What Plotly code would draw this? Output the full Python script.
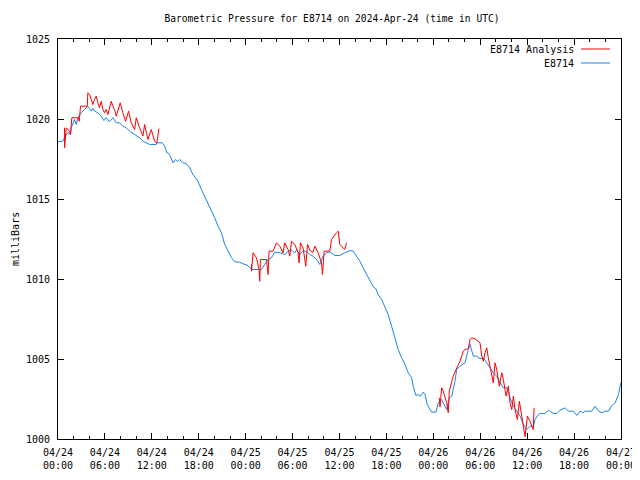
import pandas as pd
import plotly.graph_objects as go

# ---- data (hours since 2024-04-24 00:00 UTC, pressure in mbar) ----
obs_hours = [0.0, 0.19, 0.61, 0.83, 1.25, 1.60, 1.69, 2.11, 2.33, 2.54, 2.97, 3.39, 3.82, 4.03, 4.25, 4.46,
             4.67, 5.10, 5.53, 5.86, 6.17, 6.59, 7.02, 7.45, 7.87, 8.30, 8.73, 9.15, 9.80, 10.44, 10.86,
             11.72, 12.57, 12.61, 13.34, 13.64, 13.93, 14.15, 14.37, 14.70, 15.04, 15.30, 15.56, 15.98,
             16.41, 16.84, 17.26, 17.90, 18.34, 18.76, 19.18, 19.62, 20.04, 20.46, 20.90, 21.32, 21.74,
             22.18, 22.60, 23.24, 23.66, 24.30, 24.74, 26.02, 26.44, 26.86, 27.30, 27.72, 28.36, 29.00,
             29.42, 29.86, 30.28, 30.54, 30.92, 31.34, 31.78, 32.20, 32.62, 33.06, 33.48, 33.91, 34.34,
             34.76, 35.40, 36.04, 36.68, 37.32, 37.75, 38.18, 38.60, 39.03, 39.46, 39.88, 40.31, 40.65,
             40.95, 41.38, 41.81, 42.23, 42.66, 43.09, 43.51, 43.94, 44.37, 44.79, 45.22, 45.43, 45.77,
             46.09, 46.29, 46.71, 46.93, 47.22, 47.78, 48.34, 48.63, 49.06, 49.49, 49.71, 50.04, 50.35,
             50.77, 50.99, 51.41, 52.05, 52.47, 52.69, 53.11, 53.55, 53.97, 54.39, 54.83, 55.25, 55.67,
             56.11, 56.53, 56.95, 57.39, 57.81, 58.23, 58.67, 59.09, 59.51, 59.95, 60.37, 60.79, 61.01,
             61.43, 61.65, 62.29, 62.71, 63.35, 63.79, 64.21, 64.85, 65.28, 65.92, 66.35, 66.77, 67.16,
             67.42, 68.27, 68.69, 69.12, 69.55, 69.97, 70.40, 70.83, 71.25, 71.68, 71.97]
obs_mbar = [1018.58, 1018.58, 1018.61, 1018.83, 1019.14, 1019.03, 1019.45, 1019.97, 1019.66, 1020.08,
            1020.39, 1020.59, 1020.80, 1020.66, 1020.49, 1020.66, 1020.49, 1020.39, 1020.18, 1019.91,
            1020.08, 1019.83, 1020.08, 1019.76, 1019.76, 1019.55, 1019.45, 1019.24, 1019.03, 1018.83,
            1018.61, 1018.41, 1018.41, 1018.51, 1018.51, 1018.30, 1017.89, 1017.84, 1017.68, 1017.26,
            1017.47, 1017.34, 1017.47, 1017.26, 1017.20, 1016.95, 1016.53, 1016.11, 1015.59, 1015.18,
            1014.76, 1014.34, 1013.83, 1013.30, 1012.89, 1012.16, 1011.74, 1011.33, 1011.08, 1011.05,
            1010.95, 1010.84, 1010.59, 1010.59, 1010.91, 1011.22, 1011.33, 1011.68, 1011.64, 1011.53,
            1011.74, 1011.80, 1011.64, 1011.84, 1011.53, 1011.74, 1011.74, 1011.53, 1011.43, 1011.22,
            1010.91, 1011.43, 1011.64, 1011.70, 1011.47, 1011.47, 1011.64, 1011.78, 1011.74, 1011.43,
            1011.11, 1010.70, 1010.28, 1009.86, 1009.51, 1009.39, 1009.03, 1008.72, 1008.20, 1007.78,
            1007.05, 1006.33, 1005.59, 1005.08, 1004.66, 1004.14, 1003.83, 1003.30, 1002.72, 1002.78,
            1002.66, 1002.93, 1002.78, 1002.16, 1001.68, 1001.68, 1002.26, 1002.47, 1002.05, 1001.84,
            1002.58, 1002.66, 1003.61, 1004.34, 1004.55, 1004.76, 1005.59, 1005.91, 1005.18, 1005.18,
            1005.01, 1005.08, 1004.76, 1004.45, 1004.14, 1003.93, 1003.51, 1003.20, 1003.20, 1002.58,
            1002.05, 1001.74, 1001.43, 1000.91, 1000.59, 1000.80, 1000.80, 1001.22, 1001.53, 1001.59,
            1001.59, 1001.80, 1001.59, 1001.59, 1001.80, 1001.95, 1001.74, 1001.74, 1001.47, 1001.74,
            1001.64, 1001.74, 1001.74, 1002.05, 1001.74, 1001.64, 1001.74, 1001.74, 1002.09, 1002.26,
            1002.78, 1003.51]

ana_hours = [0.83, 0.85, 1.05, 1.47, 1.60, 1.77, 2.62, 2.71, 2.88, 3.74, 3.82, 4.03, 4.25, 4.46, 4.67,
             4.89, 5.10, 5.31, 5.53, 5.74, 5.95, 6.17, 6.38, 6.81, 7.02, 7.23, 7.45, 7.96, 8.30, 8.64,
             9.03, 9.37, 9.80, 10.01, 10.44, 10.86, 11.08, 11.50, 11.93, 12.36, 12.65, 12.91, None,
             24.74, 24.75, 24.94, 25.38, 25.71, 25.80, 25.89, 26.66, 26.86, 26.99, 27.50, 27.94, 28.36,
             28.78, 29.00, 29.42, 29.64, 29.86, 30.28, 30.70, 30.83, 31.01, 31.34, 31.69, 31.91, 32.29,
             32.59, 32.84, 33.27, 33.70, 33.83, 34.03, 34.76, 34.98, 35.62, 35.83, 36.04, 36.46, 36.68,
             36.90, None,
             48.76, 48.85, 49.06, 49.27, 49.71, 49.91, 50.04, 50.35, 50.55, 50.90, 51.19, 51.41, 51.83,
             52.05, 52.47, 52.69, 52.91, 53.33, 53.75, 53.97, 54.19, 54.39, 54.61, 54.83, 55.03, 55.25,
             55.47, 55.67, 55.89, 56.11, 56.44, 56.75, 56.95, 57.30, 57.59, 57.81, 58.03, 58.23, 58.45,
             58.75, 59.00, 59.31, 59.73, 60.03, 60.37, 60.59, 60.79, 60.88]
ana_mbar = [1019.45, 1018.20, 1019.45, 1019.24, 1019.03, 1020.08, 1020.08, 1019.86, 1020.80, 1020.80,
            1021.64, 1021.53, 1021.22, 1020.90, 1021.22, 1021.43, 1021.01, 1020.70, 1021.11, 1020.59,
            1020.39, 1020.59, 1020.28, 1021.11, 1020.80, 1020.59, 1020.18, 1021.01, 1020.39, 1019.86,
            1020.49, 1019.76, 1019.34, 1020.08, 1019.45, 1018.93, 1019.66, 1018.72, 1019.34, 1018.61,
            1018.51, 1019.40, None,
            1010.91, 1010.49, 1011.64, 1011.33, 1010.59, 1009.86, 1011.22, 1011.22, 1010.28, 1011.74,
            1011.74, 1012.26, 1012.05, 1011.64, 1012.26, 1011.84, 1011.43, 1012.36, 1012.16, 1011.64,
            1011.01, 1012.26, 1011.95, 1010.80, 1012.16, 1011.74, 1011.66, 1012.05, 1011.64, 1011.01,
            1010.28, 1011.74, 1011.74, 1012.47, 1012.89, 1012.99, 1012.16, 1011.95, 1011.84, 1012.26,
            None,
            1002.58, 1002.01, 1003.20, 1002.99, 1002.26, 1001.64, 1002.99, 1003.51, 1003.93, 1004.34,
            1004.66, 1004.86, 1005.49, 1005.59, 1005.64, 1006.22, 1006.33, 1006.26, 1006.11, 1006.01,
            1005.18, 1004.86, 1005.39, 1005.70, 1005.08, 1004.55, 1004.14, 1003.51, 1004.76, 1004.34,
            1003.30, 1004.14, 1003.72, 1002.68, 1003.30, 1002.26, 1001.84, 1002.68, 1001.84, 1001.22,
            1002.36, 1001.43, 1000.15, 1001.43, 1001.11, 1000.80, 1000.59, 1001.95]

tick_hours = [0, 6, 12, 18, 24, 30, 36, 42, 48, 54, 60, 66, 72]
y_ticks = [1000, 1005, 1010, 1015, 1020, 1025]

base = pd.Timestamp("2024-04-24 00:00")


def to_time(hours):
    return [None if h is None else base + pd.Timedelta(hours=h) for h in hours]


tick_times = to_time(tick_hours)
tick_text = [t.strftime("%m/%d") + "<br>" + t.strftime("%H:%M") for t in tick_times]

FONT = "DejaVu Sans Mono"
RED = "#ff0000"
BLUE = "#1a84e8"

# The page body has an 8px default margin; size the figure so the plot lands where the reference has it.
W, H = 632, 464
L, R, T, B = 50, 19, 31, 33
PW = W - L - R  # plot width in px


def px_x(xpx):
    """figure-pixel x -> paper x"""
    return (xpx - L) / PW


fig = go.Figure()
fig.add_trace(go.Scatter(x=to_time(obs_hours), y=obs_mbar, mode="lines",
                         line=dict(color=BLUE, width=1), name="E8714", showlegend=False))
fig.add_trace(go.Scatter(x=to_time(ana_hours), y=ana_mbar, mode="lines", connectgaps=False,
                         line=dict(color=RED, width=1), name="E8714 Analysis", showlegend=False))

fig.update_layout(
    width=W, height=H,
    margin=dict(l=L, r=R, t=T, b=B, autoexpand=False),
    paper_bgcolor="white", plot_bgcolor="white",
    font=dict(family=FONT, size=10, color="black"),
    title=dict(text="Barometric Pressure for E8714 on 2024-Apr-24 (time in UTC)",
               x=324 / W, xref="container", xanchor="center",
               y=1 - 11 / H, yref="container", yanchor="middle",
               font=dict(family=FONT, size=9.6, color="black")),
)
fig.update_xaxes(
    range=[tick_times[0], tick_times[-1]],
    tickvals=tick_times, ticktext=tick_text,
    showgrid=False, zeroline=False,
    showline=True, linecolor="black", linewidth=1, mirror="ticks",
    ticks="inside", ticklen=6, tickcolor="black", tickwidth=1,
    minor=dict(dtick=2 * 3600 * 1000, ticks="inside", ticklen=3, tickcolor="black", showgrid=False),
    tickfont=dict(family=FONT, size=10, color="black"),
    ticklabelstandoff=4,
)
fig.update_yaxes(
    range=[1000, 1025], tickvals=y_ticks,
    showgrid=False, zeroline=False,
    showline=True, linecolor="black", linewidth=1, mirror="ticks",
    ticks="inside", ticklen=6, tickcolor="black", tickwidth=1,
    tickfont=dict(family=FONT, size=10, color="black"),
    ticklabelstandoff=5,
)

# y-axis label
fig.add_annotation(text="milliBars", xref="paper", yref="paper", x=px_x(7), y=0.5,
                   xanchor="center", yanchor="middle",
                   textangle=-90, showarrow=False, font=dict(family=FONT, size=10, color="black"))

# key (top right, gnuplot style)
legend_items = [("E8714 Analysis", RED, 41), ("E8714", BLUE, 55)]
for label, color, ypx in legend_items:
    yp = 1 - (ypx - T) / (H - T - B)
    fig.add_annotation(text=label, xref="paper", yref="paper", x=px_x(568), y=yp,
                       xanchor="right", yanchor="middle", showarrow=False,
                       font=dict(family=FONT, size=10, color="black"))
    fig.add_shape(type="line", xref="paper", yref="paper",
                  x0=px_x(573), x1=px_x(602), y0=yp, y1=yp,
                  line=dict(color=color, width=1))

fig.write_html("out.html")
